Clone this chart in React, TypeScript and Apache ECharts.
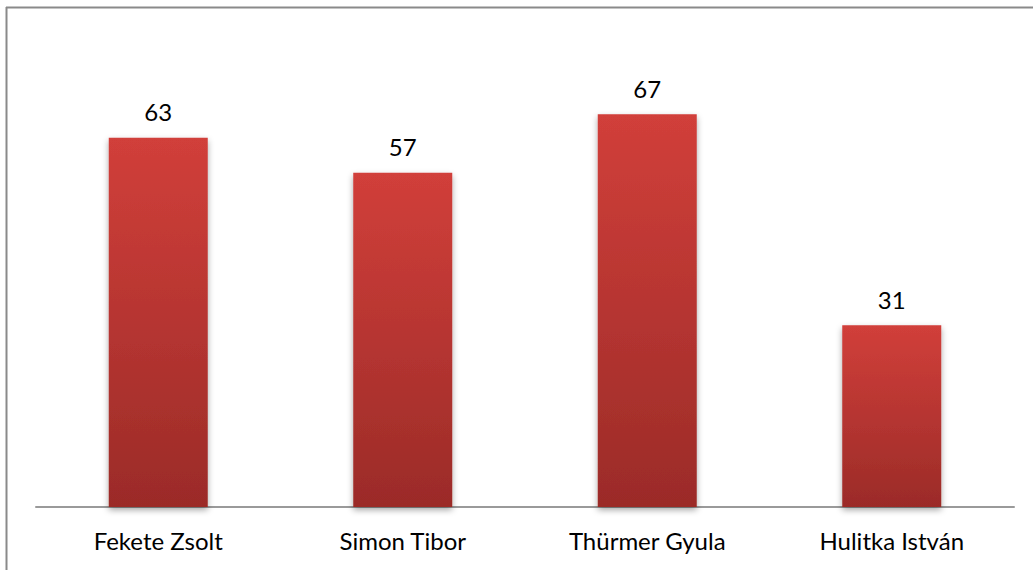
import React, { useEffect, useRef } from "react";
import * as echarts from "echarts";

const categories = ["Fekete Zsolt", "Simon Tibor", "Thürmer Gyula", "Hulitka István"];
const values = [63, 57, 67, 31];

export default function App() {
  const ref = useRef<HTMLDivElement>(null);
  useEffect(() => {
    if (!ref.current) return;
    const chart = echarts.init(ref.current, null, { renderer: "svg" });
    chart.setOption({
      animation: false,
      backgroundColor: "#ffffff",
      grid: { left: 36, right: 19, top: 38, bottom: 63, containLabel: false },
      xAxis: {
        type: "category",
        data: categories,
        axisLine: { show: true, lineStyle: { color: "#9a9a9a", width: 2 } },
        axisTick: { show: false },
        axisLabel: {
          color: "#000000",
          fontFamily: "Lato",
          fontSize: 24,
          margin: 21,
        },
      },
      yAxis: {
        type: "value",
        min: 0,
        max: 80,
        show: false,
        splitLine: { show: false },
      },
      series: [
        {
          type: "bar",
          data: values,
          barWidth: 99,
          itemStyle: {
            color: new echarts.graphic.LinearGradient(0, 0, 0, 1, [
              { offset: 0, color: "#d13f3a" },
              { offset: 1, color: "#9b2b28" },
            ]),
            shadowColor: "rgba(0,0,0,0.35)",
            shadowBlur: 6,
            shadowOffsetY: 3,
          },
          label: {
            show: true,
            position: "top",
            distance: 14,
            color: "#000000",
            fontFamily: "Lato",
            fontSize: 24,
          },
        },
      ],
      graphic: [
        {
          type: "line",
          shape: { x1: 6, y1: 7.5, x2: 1033, y2: 7.5 },
          style: { stroke: "#8a8a8a", lineWidth: 2 },
          z: 10,
        },
        {
          type: "line",
          shape: { x1: 6.5, y1: 7, x2: 6.5, y2: 570 },
          style: { stroke: "#8a8a8a", lineWidth: 2 },
          z: 10,
        },
      ],
    });
    return () => chart.dispose();
  }, []);
  return (
    <div
      ref={ref}
      style={{ position: "fixed", left: 0, top: 0, width: 1033, height: 570 }}
    />
  );
}
